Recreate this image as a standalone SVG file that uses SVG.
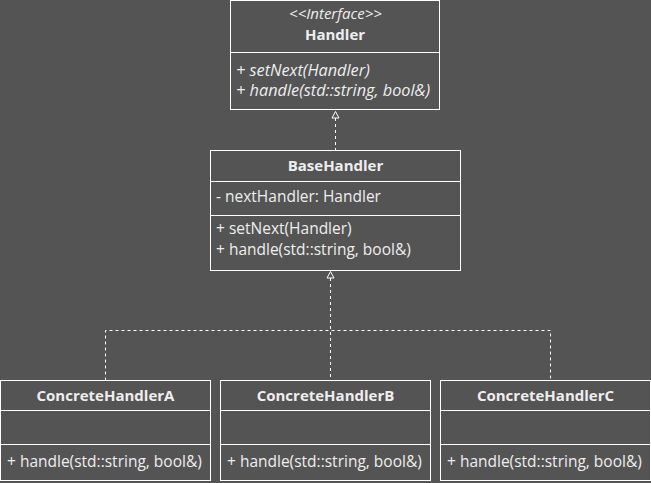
<svg xmlns="http://www.w3.org/2000/svg" width="651" height="483" viewBox="0 0 651 483">
<defs>
<style>
.box{fill:#545454;stroke:#ffffff;stroke-width:1}
.div{stroke:#ffffff;stroke-width:1}
.t{font-family:"Open Sans","Noto Sans",sans-serif;font-size:15.5px;fill:#eeeeee}
.b{font-weight:bold;text-anchor:middle;font-size:15px}
.i{font-style:italic;font-size:16.3px}
.s{font-style:italic;font-size:15px;text-anchor:middle}
.conn{fill:none;stroke:#ffffff;stroke-width:1;stroke-dasharray:3,3}
.head{fill:#545454;stroke:#ffffff;stroke-width:1}
</style>
</defs>
<rect x="0" y="0" width="651" height="483" fill="#545454"/>
<g id="connectors">
<path class="conn" d="M335.5,118 V150"/>
<path class="head" d="M335.5,111.5 L332,118 L339,118 Z"/>
<path class="conn" d="M330.5,278 V380.5"/>
<path class="conn" d="M105.5,380.5 V330.5 H550.5 V380.5"/>
<path class="head" d="M330.5,271.5 L327,278 L334,278 Z"/>
</g>
<g id="Handler">
<rect class="box" x="230.5" y="0.5" width="209" height="109"/>
<line class="div" x1="230.5" y1="52.5" x2="439.5" y2="52.5"/>
<text class="t s" x="335.5" y="19">&lt;&lt;Interface&gt;&gt;</text>
<text class="t b" x="335" y="39.5">Handler</text>
<text class="t i" x="236" y="76">+ setNext(Handler)</text>
<text class="t i" x="236" y="96">+ handle(std::string, bool&amp;)</text>
</g>
<g id="BaseHandler">
<rect class="box" x="210.5" y="150.5" width="250" height="120"/>
<line class="div" x1="210.5" y1="181.5" x2="460.5" y2="181.5"/>
<line class="div" x1="210.5" y1="215.5" x2="460.5" y2="215.5"/>
<text class="t b" x="335.5" y="171">BaseHandler</text>
<text class="t" x="216" y="202">- nextHandler: Handler</text>
<text class="t" x="216" y="234">+ setNext(Handler)</text>
<text class="t" x="216" y="255">+ handle(std::string, bool&amp;)</text>
</g>
<g id="ConcreteHandlerA">
<rect class="box" x="0.5" y="380.5" width="210" height="100"/>
<line class="div" x1="0.5" y1="410.5" x2="210.5" y2="410.5"/>
<line class="div" x1="0.5" y1="444.5" x2="210.5" y2="444.5"/>
<text class="t b" x="105.5" y="401">ConcreteHandlerA</text>
<text class="t" x="7" y="467">+ handle(std::string, bool&amp;)</text>
</g>
<g id="ConcreteHandlerB">
<rect class="box" x="220.5" y="380.5" width="210" height="100"/>
<line class="div" x1="220.5" y1="410.5" x2="430.5" y2="410.5"/>
<line class="div" x1="220.5" y1="444.5" x2="430.5" y2="444.5"/>
<text class="t b" x="325.5" y="401">ConcreteHandlerB</text>
<text class="t" x="227" y="467">+ handle(std::string, bool&amp;)</text>
</g>
<g id="ConcreteHandlerC">
<rect class="box" x="440.5" y="380.5" width="210" height="100"/>
<line class="div" x1="440.5" y1="410.5" x2="650.5" y2="410.5"/>
<line class="div" x1="440.5" y1="444.5" x2="650.5" y2="444.5"/>
<text class="t b" x="545.5" y="401">ConcreteHandlerC</text>
<text class="t" x="447" y="467">+ handle(std::string, bool&amp;)</text>
</g>
</svg>
